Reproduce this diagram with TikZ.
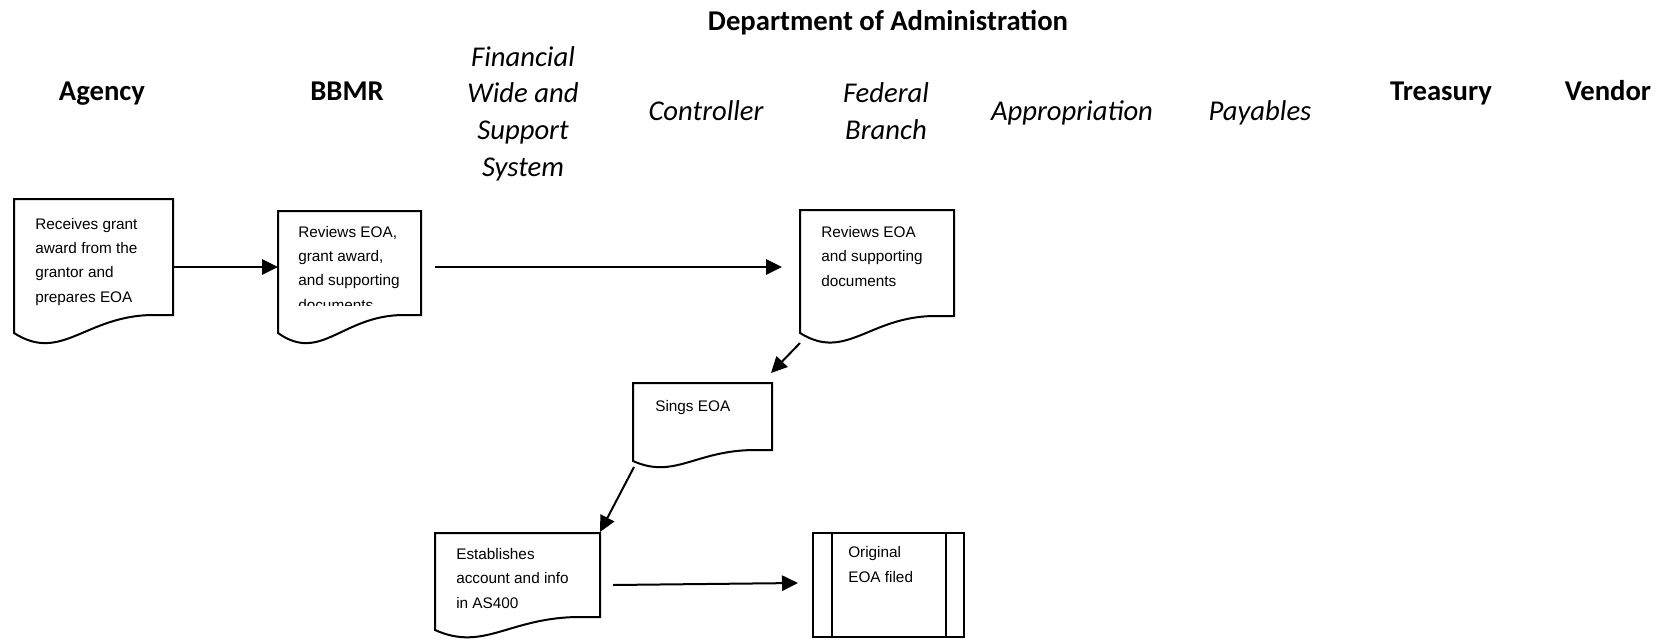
\documentclass[tikz,border=0pt]{standalone}
\usepackage{fontspec}
\setmainfont{Liberation Sans}
\newfontfamily\hdfont{Carlito}
\usetikzlibrary{arrows.meta}
% document shape: #1 left, #2 top, #3 right, #4 right-bottom, #5 left-bottom
\newcommand\docshape[5]{%
  \draw[boxline] (#1,#5) -- (#1,#2) -- (#3,#2) -- (#3,#4)
    -- ({#3-0.12*(#3-#1)},#4)
    .. controls ({#1+0.45*(#3-#1)},#4) and ({#1+0.3*(#3-#1)},{#5+1.7*(#5-#4)}) .. (#1,#5) -- cycle;}
\begin{document}
\begin{tikzpicture}[x=0.75pt,y=-0.75pt,
  boxline/.style={line width=1.5pt, line join=miter},
  arr/.style={line width=1.5pt,-{Triangle[length=12pt,width=11.5pt]}},
  headb/.style={font={\hdfont\bfseries\fontsize{21.5}{27.5}\selectfont}, anchor=base, align=center, inner sep=0pt},
  headi/.style={font={\hdfont\itshape\fontsize{21.5}{27.5}\selectfont}, anchor=base, align=center, inner sep=0pt},
  txt/.style={font={\fontsize{11.5}{18.2}\selectfont}, anchor=base west, align=left, inner sep=0pt}]
\useasboundingbox (0,0) rectangle (1669,639);

% headers (anchor = baseline of last line)
\node[headb] (dept) at (888,30) {Department of Administration};
\node[headb] (agency) at (102,100) {Agency};
\node[headb] (bbmr) at (347,100) {BBMR};
\node[headi] (fwss) at (523,176) {Financial\\Wide and\\Support\\System};
\node[headi] (ctrl) at (706,120) {Controller};
\node[headi] (fed) at (886,139.3) {Federal\\Branch};
\node[headi] (appr) at (1072,120) {Appropriation};
\node[headi] (pay) at (1260,120) {Payables};
\node[headb] (treas) at (1441,100) {Treasury};
\node[headb] (vend) at (1608,100) {Vendor};

% boxes
\docshape{14}{199}{173}{315}{333}
\node[txt] (t1) at (35,302) {Receives grant\\award from the\\grantor and\\prepares EOA};

\docshape{278}{211}{421}{315}{333}
\begin{scope}
  \clip (280,213) rectangle (419,305);
  \node[txt] (t2) at (298,310) {Reviews EOA,\\grant award,\\and supporting\\documents};
\end{scope}

\docshape{800}{210}{954}{316}{333}
\node[txt] (t3) at (821,286) {Reviews EOA\\and supporting\\documents};

\docshape{633}{383}{772}{450}{461}
\node[txt] (t4) at (655,411) {Sings EOA};

\docshape{435}{533}{600}{617}{630}
\node[txt] (t5) at (456,608) {Establishes\\account and info\\in AS400};

\draw[boxline] (813,533) rectangle (964,637);
\draw[boxline] (832,533) -- (832,637);
\draw[boxline] (946,533) -- (946,637);
\node[txt] (t6) at (848,582) {Original\\EOA filed};

% connector end points
\coordinate (a1s) at (173,267);
\coordinate (a1e) at (278,267);
\coordinate (a2s) at (435,267);
\coordinate (a2e) at (782,267);
\coordinate (a3s) at (800,343);
\coordinate (a3e) at (771,373);
\coordinate (a4s) at (634,467);
\coordinate (a4e) at (600,532);
\coordinate (a5s) at (613,585);
\coordinate (a5e) at (798,583);

\draw[arr] (a1s) -- (a1e);
\draw[arr] (a2s) -- (a2e);
\draw[arr] (a3s) -- (a3e);
\draw[arr] (a4s) -- (a4e);
\draw[arr] (a5s) -- (a5e);
\end{tikzpicture}
\end{document}
